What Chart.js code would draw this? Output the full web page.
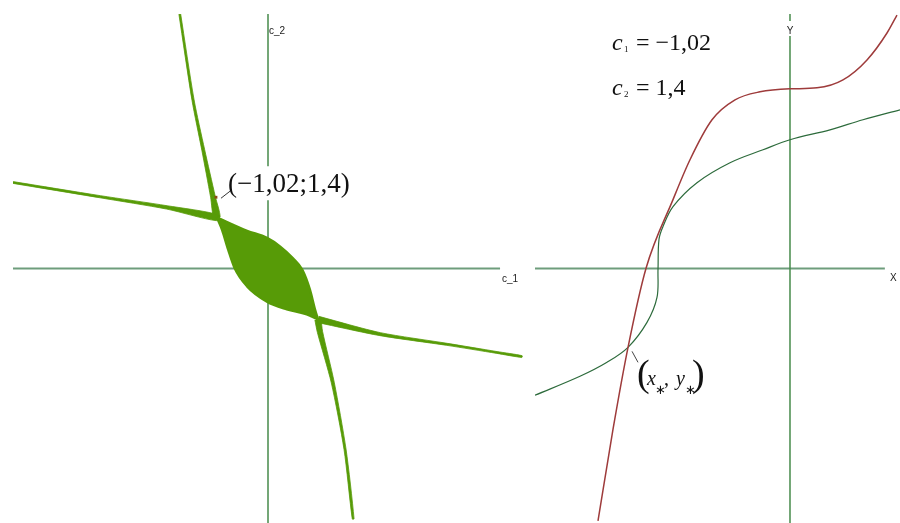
<!DOCTYPE html>
<html>
<head>
<meta charset="utf-8">
<script src="https://cdn.jsdelivr.net/npm/chart.js@4.4.1/dist/chart.umd.min.js"></script>
<style>
  html, body { margin: 0; padding: 0; background: #fff; }
  #wrap { position: relative; width: 900px; height: 523px; overflow: hidden; }
  #regionChart { position: absolute; left: 0; top: 0; }
  #curveChart { position: absolute; left: 535px; top: 0; }
</style>
</head>
<body>
<div id="wrap">
  <canvas id="regionChart" width="535" height="523"></canvas>
  <canvas id="curveChart" width="365" height="523"></canvas>
</div>
<script>
// ---- (c1, c2) plane: two thin bands that cross and a filled lens between them
const bandWestC1 = [-5.0, -3.29, -1.98, -1.0];
const bandWestC2 = [1.69, 1.41, 1.20, 1.0];
const bandEastC1 = [0.98, 2.2, 3.51, 4.49, 4.98];
const bandEastC2 = [-1.0, -1.29, -1.49, -1.65, -1.73];
const bandNorthC1 = [-1.73, -1.47, -1.27, -1.08, -1.0];
const bandNorthC2 = [5.0, 3.31, 2.33, 1.41, 1.0];
const bandSouthC1 = [0.98, 1.02, 1.27, 1.51, 1.67];
const bandSouthC2 = [-1.0, -1.25, -2.24, -3.55, -4.92];

const lensUpperC1 = [-1.0, -0.41, -0.02, 0.24, 0.49, 0.67, 0.82, 0.92, 0.98];
const lensUpperC2 = [1.0, 0.74, 0.60, 0.43, 0.20, -0.02, -0.41, -0.80, -1.0];
const lensLowerC1 = [-1.0, -0.90, -0.78, -0.65, -0.41, -0.02, 0.37, 0.76, 0.98];
const lensLowerC2 = [1.0, 0.76, 0.37, 0.0, -0.35, -0.65, -0.80, -0.90, -1.0];

const pointC1 = -1.02;
const pointC2 = 1.4;

// ---- (x, y) plane: the two curves for c1 = -1,02, c2 = 1,4
const redX = [-3.765, -3.47, -3.176, -2.824, -2.294, -1.961, -1.529, -1.078, -0.588, 0, 0.529, 1.039, 1.51, 1.902, 2.098];
const redY = [-4.96, -3.157, -1.549, 0, 1.353, 2.137, 2.922, 3.314, 3.471, 3.529, 3.549, 3.706, 4.098, 4.627, 4.98];
const greenX = [-5.0, -4.118, -3.588, -3.176, -2.804, -2.608, -2.588, -2.569, -2.49, -2.294, -1.824, -1.176, -0.529, 0, 0.784, 1.431, 2.157];
const greenY = [-2.49, -2.118, -1.843, -1.549, -1.059, -0.569, -0.02, 0.569, 0.824, 1.216, 1.686, 2.078, 2.333, 2.529, 2.725, 2.922, 3.118];
const crossX = -3.176;
const crossY = -1.549;

const regionGreen = '#579b07';
const hAxisColor = '#6e9d7c';
const vAxisColor = '#468a4a';
const pxPerUnit = 51;

function pts(xs, ys) {
  return xs.map((x, i) => ({ x, y: ys[i] }));
}

// a band is drawn as a thin closed outline around its centre line;
// it gets wider as it approaches a tip of the lens
const lensTips = [
  [lensUpperC1[0], lensUpperC2[0]],
  [lensUpperC1[lensUpperC1.length - 1], lensUpperC2[lensUpperC2.length - 1]]
];
function bandShape(xs, ys) {
  const n = xs.length;
  const side1 = [], side2 = [];
  for (let i = 0; i < n; i++) {
    const a = Math.max(i - 1, 0), b = Math.min(i + 1, n - 1);
    let tx = xs[b] - xs[a], ty = ys[b] - ys[a];
    const len = Math.hypot(tx, ty);
    tx /= len; ty /= len;
    const d = Math.min(...lensTips.map(t => Math.hypot(xs[i] - t[0], ys[i] - t[1])));
    const hw = (1.7 + 4.6 * Math.exp(-d)) / 2 / pxPerUnit;
    side1.push({ x: xs[i] - ty * hw, y: ys[i] + tx * hw });
    side2.push({ x: xs[i] + ty * hw, y: ys[i] - tx * hw });
  }
  return {
    data: side1.concat(side2.reverse()),
    fill: 'shape',
    backgroundColor: regionGreen,
    borderColor: regionGreen,
    borderWidth: 0.8,
    tension: 0.25,
    pointRadius: 0
  };
}

function say(ctx, str, x, y, font, color, align) {
  ctx.font = font;
  ctx.fillStyle = color || '#111';
  ctx.textAlign = align || 'left';
  ctx.textBaseline = 'alphabetic';
  ctx.fillText(str, x, y);
}

// coordinate axes through the origin, drawn with the chart's own scales
const planeAxes = {
  id: 'planeAxes',
  beforeDatasetsDraw(chart, args, opts) {
    const { ctx, chartArea, scales: { x, y } } = chart;
    const x0 = x.getPixelForValue(0);
    const y0 = y.getPixelForValue(0);
    ctx.save();
    ctx.strokeStyle = hAxisColor;
    ctx.lineWidth = 2;
    ctx.beginPath();
    ctx.moveTo(chartArea.left, y0);
    ctx.lineTo(x.getPixelForValue(opts.hEnd), y0);
    ctx.stroke();
    ctx.strokeStyle = vAxisColor;
    ctx.lineWidth = 1.5;
    ctx.beginPath();
    ctx.moveTo(x0, chartArea.top);
    ctx.lineTo(x0, chartArea.bottom);
    ctx.stroke();
    ctx.restore();
  }
};

const regionLabels = {
  id: 'regionLabels',
  afterDraw(chart) {
    const { ctx, scales: { x, y } } = chart;
    const x0 = x.getPixelForValue(0);
    const y0 = y.getPixelForValue(0);
    ctx.save();
    say(ctx, 'c_2', x0 + 1, 34, '10px "Liberation Sans"', '#222');
    say(ctx, 'c_1', 502, y0 + 13, '10px "Liberation Sans"', '#222');
    const px = x.getPixelForValue(pointC1);
    const py = y.getPixelForValue(pointC2);
    const label = '(\u22121,02;1,4)';
    ctx.font = '27px "Liberation Serif"';
    const w = ctx.measureText(label).width;
    ctx.fillStyle = '#fff';
    ctx.fillRect(px + 14, py - 31, w, 34);
    ctx.strokeStyle = '#333';
    ctx.lineWidth = 1;
    ctx.beginPath();
    ctx.moveTo(px + 5, py + 1);
    ctx.lineTo(px + 14, py - 6);
    ctx.stroke();
    say(ctx, label, px + 12, py - 5, '27px "Liberation Serif"');
    ctx.restore();
  }
};

const curveLabels = {
  id: 'curveLabels',
  beforeDatasetsDraw(chart) {
    const { ctx, scales: { x } } = chart;
    const x0 = x.getPixelForValue(0);
    ctx.save();
    ctx.fillStyle = '#fff';
    ctx.fillRect(x0 - 5, 21, 10, 15);
    ctx.restore();
  },
  afterDraw(chart) {
    const { ctx, scales: { x, y } } = chart;
    const x0 = x.getPixelForValue(0);
    const y0 = y.getPixelForValue(0);
    ctx.save();
    say(ctx, 'Y', x0, 34, '10px "Liberation Sans"', '#222', 'center');
    say(ctx, 'X', 355, y0 + 12, '10px "Liberation Sans"', '#222');

    // parameter values
    say(ctx, 'c', 77, 50, 'italic 24px "Liberation Serif"');
    say(ctx, '1', 89, 52, '9px "Liberation Serif"');
    say(ctx, '= \u22121,02', 101, 50, '24px "Liberation Serif"');
    say(ctx, 'c', 77, 95, 'italic 24px "Liberation Serif"');
    say(ctx, '2', 89, 97, '9px "Liberation Serif"');
    say(ctx, '= 1,4', 101, 95, '24px "Liberation Serif"');

    // intersection label
    const cx = x.getPixelForValue(crossX);
    const cy = y.getPixelForValue(crossY);
    ctx.strokeStyle = '#444';
    ctx.lineWidth = 1;
    ctx.beginPath();
    ctx.moveTo(cx + 4, cy + 4);
    ctx.lineTo(cx + 10, cy + 15);
    ctx.stroke();
    say(ctx, '(', cx + 9, 386, '38px "Liberation Serif"');
    say(ctx, 'x', cx + 19, 385, 'italic 20px "Liberation Serif"');
    say(ctx, '\u2217', cx + 27, 394, '13px "Liberation Serif"');
    say(ctx, ',', cx + 36, 385, '20px "Liberation Serif"');
    say(ctx, 'y', cx + 48, 385, 'italic 20px "Liberation Serif"');
    say(ctx, '\u2217', cx + 57, 394, '13px "Liberation Serif"');
    say(ctx, ')', cx + 64, 386, '38px "Liberation Serif"');
    ctx.restore();
  }
};

const baseOptions = (xMin, xMax, padding, hEnd) => ({
  responsive: false,
  animation: false,
  events: [],
  layout: { padding, autoPadding: false },
  scales: {
    x: { type: 'linear', min: xMin, max: xMax, display: false },
    y: { type: 'linear', min: -5, max: 5, display: false }
  },
  plugins: {
    legend: { display: false },
    tooltip: { enabled: false },
    planeAxes: { hEnd }
  }
});

new Chart(document.getElementById('regionChart'), {
  type: 'line',
  data: {
    datasets: [
      {
        data: [{ x: pointC1, y: pointC2 }],
        showLine: false,
        pointStyle: 'rect',
        pointRadius: 2,
        pointBackgroundColor: '#8b4a14',
        pointBorderWidth: 0
      },
      {
        data: pts(lensUpperC1, lensUpperC2),
        fill: '+1',
        backgroundColor: regionGreen,
        borderColor: regionGreen,
        borderWidth: 2.5,
        cubicInterpolationMode: 'monotone',
        pointRadius: 0
      },
      {
        data: pts(lensLowerC1, lensLowerC2),
        borderColor: regionGreen,
        borderWidth: 2.5,
        cubicInterpolationMode: 'monotone',
        pointRadius: 0
      },
      bandShape(bandWestC1, bandWestC2),
      bandShape(bandEastC1, bandEastC2),
      bandShape(bandNorthC1, bandNorthC2),
      bandShape(bandSouthC1, bandSouthC2)
    ]
  },
  options: baseOptions(-5, 5, { left: 13, top: 14, right: 12, bottom: 0 }, 4.55),
  plugins: [planeAxes, regionLabels]
});

new Chart(document.getElementById('curveChart'), {
  type: 'line',
  data: {
    datasets: [
      {
        data: pts(redX, redY),
        borderColor: '#9e3b3b',
        borderWidth: 1.5,
        cubicInterpolationMode: 'monotone',
        pointRadius: 0
      },
      {
        data: pts(greenX, greenY),
        borderColor: '#2d6b3c',
        borderWidth: 1.2,
        tension: 0.35,
        pointRadius: 0
      }
    ]
  },
  options: baseOptions(-5, 2.157, { left: 0, top: 14, right: 0, bottom: 0 }, 1.86),
  plugins: [planeAxes, curveLabels]
});
</script>
</body>
</html>
